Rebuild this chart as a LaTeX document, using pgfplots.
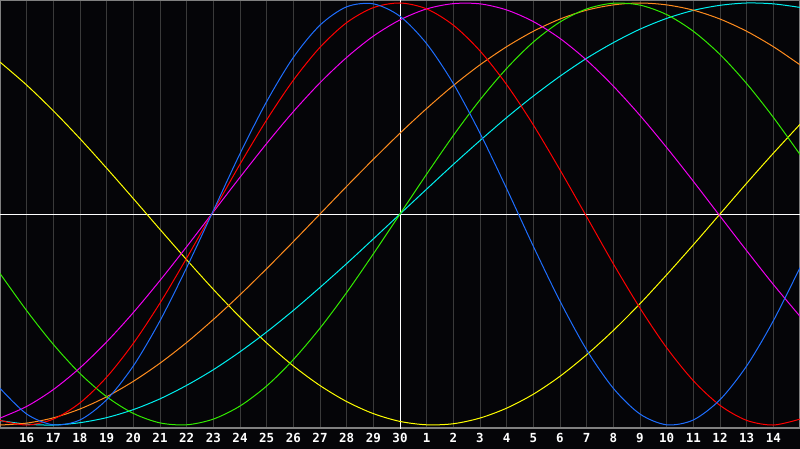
\documentclass[border=0pt]{standalone}
\usepackage{fontspec}
\setmainfont{DejaVu Sans Mono}
\usepackage{pgfplots}
\usepackage{pgfplotstable}
\pgfplotsset{compat=1.18}
\definecolor{bg}{RGB}{5,5,8}
\definecolor{gridc}{RGB}{58,58,58}
\definecolor{bord}{RGB}{128,128,128}
\definecolor{cblue}{RGB}{30,110,255}
\definecolor{cred}{RGB}{255,0,0}
\definecolor{cmag}{RGB}{240,0,240}
\definecolor{cgreen}{RGB}{50,235,0}
\definecolor{ccyan}{RGB}{0,240,240}
\definecolor{corange}{RGB}{255,140,30}
\definecolor{cyellow}{RGB}{255,255,0}

\pgfplotstableread{
i  blue   red    mag    green  cyan   orange yellow
0  -0.826 -0.978 -0.967 -0.282 -0.979 -1.000 0.720
1  -0.948 -1.000 -0.912 -0.458 -0.996 -0.991 0.611
2  -0.999 -0.972 -0.832 -0.618 -1.000 -0.966 0.489
3  -0.976 -0.895 -0.729 -0.756 -0.989 -0.924 0.357
4  -0.880 -0.773 -0.606 -0.866 -0.965 -0.866 0.217
5  -0.720 -0.613 -0.467 -0.945 -0.927 -0.793 0.073
6  -0.506 -0.422 -0.315 -0.990 -0.876 -0.707 -0.073
7  -0.254 -0.209 -0.155 -0.999 -0.812 -0.609 -0.217
8  0.016  0.013  0.010  -0.972 -0.738 -0.500 -0.357
9  0.286  0.236  0.174  -0.910 -0.653 -0.383 -0.489
10 0.533  0.446  0.334  -0.815 -0.559 -0.259 -0.611
11 0.742  0.634  0.485  -0.690 -0.457 -0.131 -0.720
12 0.895  0.790  0.622  -0.541 -0.348 0.000  -0.813
13 0.982  0.907  0.742  -0.372 -0.235 0.131  -0.889
14 0.996  0.978  0.843  -0.189 -0.118 0.259  -0.946
15 0.937  1.000  0.920  0.000  0.000  0.383  -0.983
16 0.807  0.972  0.972  0.189  0.118  0.500  -0.999
17 0.618  0.895  0.997  0.372  0.235  0.609  -0.994
18 0.383  0.773  0.996  0.541  0.348  0.707  -0.967
19 0.120  0.613  0.967  0.690  0.457  0.793  -0.920
20 -0.153 0.422  0.912  0.815  0.559  0.866  -0.854
21 -0.413 0.209  0.832  0.910  0.653  0.924  -0.769
22 -0.644 -0.013 0.729  0.972  0.738  0.966  -0.667
23 -0.826 -0.236 0.606  0.999  0.812  0.991  -0.552
24 -0.948 -0.446 0.467  0.990  0.876  1.000  -0.425
25 -0.999 -0.634 0.315  0.945  0.927  0.991  -0.288
26 -0.976 -0.790 0.155  0.866  0.965  0.966  -0.146
27 -0.880 -0.907 -0.010 0.756  0.989  0.924  0.000
28 -0.720 -0.978 -0.174 0.618  1.000  0.866  0.146
29 -0.506 -1.000 -0.334 0.458  0.996  0.793  0.288
30 -0.254 -0.972 -0.485 0.282  0.979  0.707  0.425
}\bio

\begin{document}
\begin{tikzpicture}
\useasboundingbox (0,-20pt) rectangle (800pt,428pt);
\fill[bg] (-1pt,-21pt) rectangle (801pt,429pt);
\begin{axis}[
  at={(0,0)}, anchor=south west,
  width=800pt, height=428pt, scale only axis,
  xmin=0, xmax=30, ymin=-1.0142, ymax=1.0142,
  axis line style={draw=bord, line width=1.5pt},
  xtick={1,2,3,4,5,6,7,8,9,10,11,12,13,14,15,16,17,18,19,20,21,22,23,24,25,26,27,28,29},
  xticklabels={16,17,18,19,20,21,22,23,24,25,26,27,28,29,30,1,2,3,4,5,6,7,8,9,10,11,12,13,14},
  ytick=\empty,
  major tick length=0pt,
  xmajorgrids,
  major grid style={draw=gridc, line width=1pt},
  xticklabel style={font=\bfseries\fontsize{12.5}{13}\selectfont, text=white, anchor=base, yshift=-14.8pt},
  every axis plot/.append style={line width=1pt, no markers},
]
\addplot[white] coordinates {(15,-1.02) (15,1.02)};
\addplot[white] coordinates {(0,0) (30,0)};
\addplot[cyellow, smooth] table[x=i, y=yellow] {\bio};
\addplot[ccyan, smooth] table[x=i, y=cyan] {\bio};
\addplot[corange, smooth] table[x=i, y=orange] {\bio};
\addplot[cgreen, smooth] table[x=i, y=green] {\bio};
\addplot[cmag, smooth] table[x=i, y=mag] {\bio};
\addplot[cred, smooth] table[x=i, y=red] {\bio};
\addplot[cblue, smooth] table[x=i, y=blue] {\bio};
\end{axis}
\end{tikzpicture}
\end{document}
